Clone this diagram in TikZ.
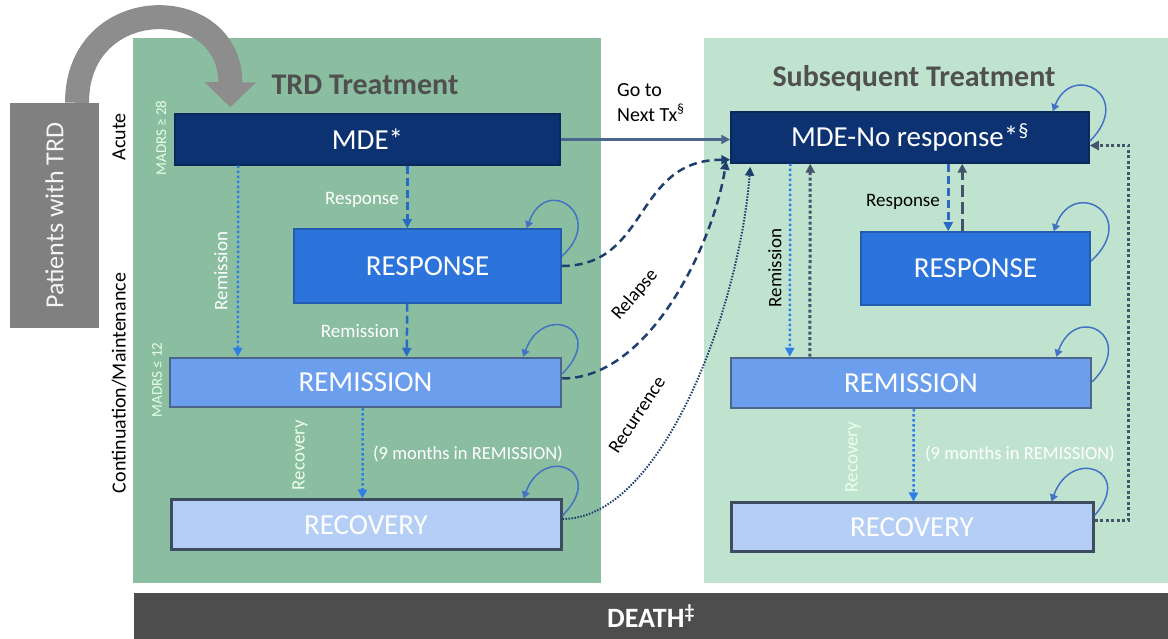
\documentclass[tikz,border=0pt]{standalone}
\usepackage{fontspec}
\setmainfont{Carlito}
\usepackage{tikz}
\usetikzlibrary{positioning,arrows.meta}

\definecolor{trdgreen}{RGB}{139,190,160}
\definecolor{subgreen}{RGB}{192,227,208}
\definecolor{mdeblue}{RGB}{12,50,114}
\definecolor{respblue}{RGB}{44,116,220}
\definecolor{remblue}{RGB}{108,158,238}
\definecolor{recblue}{RGB}{180,206,245}
\definecolor{linkblue}{RGB}{47,125,230}
\definecolor{loopblue}{RGB}{68,114,196}
\definecolor{slate}{RGB}{68,84,106}
\definecolor{navy}{RGB}{31,63,110}
\definecolor{patgray}{RGB}{128,128,128}
\definecolor{deathgray}{RGB}{77,77,77}
\definecolor{headgray}{RGB}{80,80,80}

\begin{document}
\begin{tikzpicture}[
x=1pt, y=1pt,
>={Triangle[length=9pt,width=9pt]},
stat/.style={
	draw,
	line width=1.5pt,
	text=white,
	inner sep=0pt,
	font=\fontsize{29}{31}\selectfont
},
lbl/.style={
	inner sep=1pt,
	font=\fontsize{19}{22}\selectfont
},
madrs/.style={
	inner sep=1pt,
	text=white!90!green,
	font=\fontsize{15}{17}\selectfont
},
head/.style={
	text=headgray,
	font=\bfseries\fontsize{30}{32}\selectfont
},
selfloop/.style={
	loopblue,
	line width=1.5pt,
	-{Triangle[length=7pt,width=8pt]}
},
dotblue/.style={linkblue, line width=2.5pt, dash pattern=on 2.5pt off 2.5pt, ->},
dashblue/.style={linkblue!85!black, line width=2.5pt, dash pattern=on 8pt off 4pt, ->},
dotdark/.style={slate, line width=3pt, dash pattern=on 3pt off 2.5pt, ->},
dashdark/.style={slate, line width=3pt, dash pattern=on 12pt off 5pt, ->},
relapse/.style={navy, line width=2.5pt, dash pattern=on 8pt off 5pt, ->},
recur/.style={navy, line width=2pt, dash pattern=on 1.5pt off 1.5pt, ->}
]
\useasboundingbox (0,0) rectangle (1168,639);

% panels
\fill[trdgreen] (133,56) rectangle (601,601);
\fill[subgreen] (704,56) rectangle (1168,601);

\node[fill=deathgray, minimum width=1034pt, minimum height=46pt, inner sep=0pt,
  text=white, font=\bfseries\fontsize{28}{30}\selectfont] 
(death) at (651,23) {DEATH\textsuperscript{‡}};

\node[fill=patgray, rotate=90, minimum width=225pt, minimum height=89pt, inner sep=0pt,
  text=white!92!gray, font=\fontsize{26}{28}\selectfont] 
(pat) at (54.5,423.5) {Patients with TRD};

\node[head] (trdhead) at (365,554) {TRD Treatment};
\node[head] (subhead) at (914,561) {Subsequent Treatment};

% TRD treatment
\node[stat, fill=mdeblue, draw=mdeblue!80!black, minimum width=385pt, minimum height=51pt] 
(mde) at (367.5,499.5) {MDE*};
\node[stat, fill=respblue, draw=respblue!80!black, minimum width=267pt, minimum height=74pt] 
(respL) at (427.5,373) {RESPONSE};
\node[stat, fill=remblue, draw=navy!80!white, line width=2.5pt, minimum width=391pt, minimum height=49pt] 
(remL) at (365.5,256.5) {REMISSION};
\node[stat, fill=recblue, draw=slate!90!black, line width=3pt, minimum width=390pt, minimum height=50pt] 
(recL) at (366,114) {RECOVERY};

% subsequent treatment
\node[stat, fill=mdeblue, draw=mdeblue!80!black, minimum width=358pt, minimum height=51pt] 
(mdeR) at (910,501.5) {MDE-No response*\textsuperscript{§}};
\node[stat, fill=respblue, draw=respblue!80!black, minimum width=229pt, minimum height=73pt] 
(respR) at (975.5,370.5) {RESPONSE};
\node[stat, fill=remblue, draw=navy!80!white, line width=2.5pt, minimum width=360pt, minimum height=50pt] 
(remR) at (911,256) {REMISSION};
\node[stat, fill=recblue, draw=slate!90!black, line width=3pt, minimum width=362pt, minimum height=49pt] 
(recR) at (912,111.5) {RECOVERY};

% side labels
\node[lbl, rotate=90, font=\fontsize{20}{22}\selectfont] (acute) at (119,502) {Acute};
\node[lbl, rotate=90, font=\fontsize{20}{22}\selectfont] (contm) at (119,256) {Continuation/Maintenance};
\node[madrs, rotate=90] (madrsA) at (161,501) {MADRS ≥ 28};
\node[madrs, rotate=90] (madrsB) at (157,259) {MADRS ≤ 12};

% entry arrow
\draw[patgray!90!white, line width=24pt, -{Triangle[length=25pt,width=50pt]}] 
([xshift=22.5pt]pat.east) .. controls (77,647) and (231,647) .. ([xshift=56pt,yshift=6pt]mde.north west);

% TRD transitions
\draw[dotblue] ([xshift=64pt]mde.south west) -- ([xshift=69pt]remL.north west);
\draw[dashblue] ([xshift=233pt]mde.south west) -- ([xshift=114pt]respL.north west);
\draw[dashblue] ([xshift=114pt]respL.south west) -- ([xshift=238pt]remL.north west);
\draw[dotblue] ([xshift=194pt]remL.south west) -- ([xshift=193pt]recL.north west);

\node[lbl, text=white, rotate=90] (remlblA) at (221,368) {Remission};
\node[lbl, text=white] (resplblA) at (362,439) {Response};
\node[lbl, text=white] (remlblB) at (360,308) {Remission};
\node[lbl, text=white!92!green, rotate=90] (reclblA) at (300,184) {Recovery};
\node[lbl, text=white, font=\fontsize{18.5}{22}\selectfont] (monthsA) at (468,185) {(9 months in REMISSION)};

% subsequent transitions
\draw[dotblue] ([xshift=60pt]mdeR.south west) -- ([xshift=60pt]remR.north west);
\draw[dotdark] ([xshift=80pt]remR.north west) -- ([xshift=80pt]mdeR.south west);
\draw[dashblue] ([xshift=218pt]mdeR.south west) -- ([xshift=88pt]respR.north west);
\draw[dashdark] ([xshift=102pt]respR.north west) -- ([xshift=232pt]mdeR.south west);
\draw[dotblue] ([xshift=184pt]remR.south west) -- ([xshift=184pt]recR.north west);
\draw[dotdark] ([yshift=7pt]recR.east) -- ++(34,0) |- ([yshift=-8pt]mdeR.east);

\node[lbl, rotate=90] (remlblR) at (775,371) {Remission};
\node[lbl] (resplblR) at (903,437) {Response};
\node[lbl, text=white!92!green, rotate=90] (reclblR) at (853,182) {Recovery};
\node[lbl, text=white, font=\fontsize{18.5}{22}\selectfont] (monthsR) at (1020,185) {(9 months in REMISSION)};

% between treatments
\draw[navy!80!white, line width=2.5pt, ->] (mde.east) -- (mde.east -| mdeR.west);
\node[lbl, align=left, anchor=west, font=\fontsize{20}{25}\selectfont] (nexttx) at (616,536.5) {Go to\\Next Tx\textsuperscript{§}};

\draw[relapse] (respL.east) .. controls +(88,0) and +(-97,0) .. ([yshift=4pt]mdeR.south west);
\draw[relapse] ([yshift=4pt]remL.east) .. controls +(89,0) and +(-12,-79) .. ([xshift=-4pt,yshift=3pt]mdeR.south west);
\draw[recur] ([yshift=6pt]recL.east) .. controls +(99,0) and +(-11,-143) .. ([xshift=20pt,yshift=-3pt]mdeR.south west);
\node[lbl, rotate=49] (relapselbl) at (635,344) {Relapse};
\node[lbl, rotate=56.6] (recurlbl) at (637,224) {Recurrence};

% self loops
\draw[selfloop] ([yshift=-28pt]respL.north east) .. controls +(45,40) and +(20,55) .. ([xshift=-35pt]respL.north east);
\draw[selfloop] ([yshift=-17pt]remL.north east) .. controls +(45,45) and +(20,55) .. ([xshift=-39pt]remL.north east);
\draw[selfloop] ([yshift=-17pt]recL.north east) .. controls +(45,45) and +(20,55) .. ([xshift=-39pt]recL.north east);
\draw[selfloop] ([yshift=-30pt]mdeR.north east) .. controls +(45,45) and +(20,50) .. ([xshift=-37pt]mdeR.north east);
\draw[selfloop] ([yshift=-30pt]respR.north east) .. controls +(50,45) and +(20,55) .. ([xshift=-37pt]respR.north east);
\draw[selfloop] ([yshift=-25pt]remR.north east) .. controls +(45,45) and +(20,55) .. ([xshift=-36pt]remR.north east);
\draw[selfloop] ([yshift=-14pt]recR.north east) .. controls +(40,45) and +(20,55) .. ([xshift=-43pt]recR.north east);

\end{tikzpicture}
\end{document}
